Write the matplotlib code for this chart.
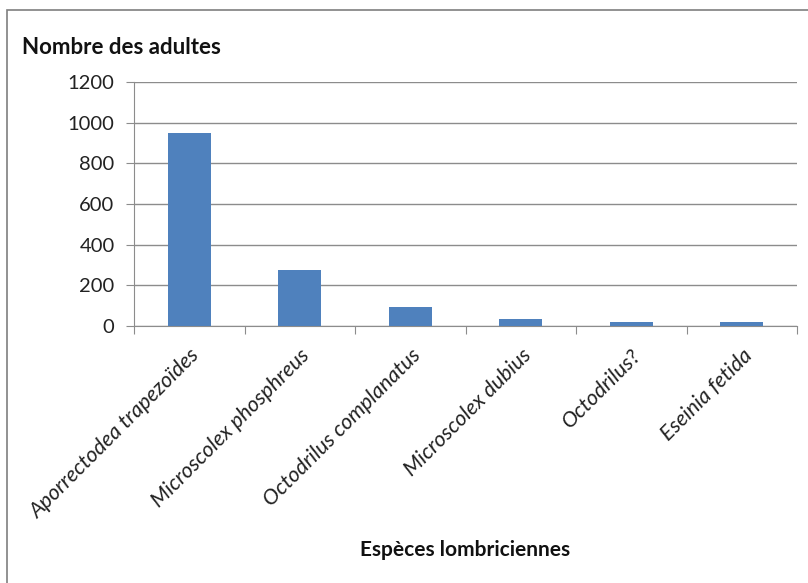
import matplotlib.pyplot as plt
from matplotlib.patches import Rectangle

# === Data ===
species = ["Aporrectodea trapezoïdes", "Microscolex phosphreus", "Octodrilus complanatus",
           "Microscolex dubius", "Octodrilus?", "Eseinia fetida"]
adults = [950, 277, 95, 32, 21, 21]
y_ticks = [0, 200, 400, 600, 800, 1000, 1200]

BAR_COLOR = "#4F81BD"
GRID_COLOR = "#8c8c8c"
plt.rcParams['font.family'] = ['Lato', 'DejaVu Sans']

fig = plt.figure(figsize=(8.08, 5.83), dpi=100)
ax = fig.add_axes([134 / 808, 1 - 326 / 583, 663 / 808, 244 / 583])

# outer chart frame
fig.patches.append(Rectangle((7 / 808, -0.1), 1.2, 1 - 10 / 583 + 0.1, transform=fig.transFigure,
                             fill=False, edgecolor="#7f7f7f", linewidth=1.2))

x = list(range(len(species)))
ax.bar(x, adults, width=0.39, color=BAR_COLOR, zorder=3)

ax.set_xlim(-0.5, len(species) - 0.5)
ax.set_ylim(0, 1200)
ax.set_yticks(y_ticks)
ax.set_yticklabels([str(v) for v in y_ticks], fontsize=14.5, color="#222222")
ax.yaxis.grid(True, color=GRID_COLOR, linewidth=1.0, zorder=0)
ax.tick_params(axis='y', length=6, color=GRID_COLOR, pad=8)

# ticks between categories, labels at centers
ax.set_xticks([i - 0.5 for i in range(len(species) + 1)])
ax.set_xticklabels([])
ax.tick_params(axis='x', which='major', length=6, color=GRID_COLOR)
ax.set_xticks(x, minor=True)
ax.set_xticklabels(species, minor=True, rotation=45, ha='right', rotation_mode='anchor',
                   fontsize=15.5, style='italic', color="#222222")
ax.tick_params(axis='x', which='minor', length=0, pad=14)

for side in ['top', 'right']:
    ax.spines[side].set_visible(False)
for side in ['left', 'bottom']:
    ax.spines[side].set_color(GRID_COLOR)

fig.text(22 / 808, 1 - 47 / 583, "Nombre des adultes", fontsize=16, fontweight='bold',
         va='center', ha='left', color="#111111")
fig.text(465 / 808, 1 - 550 / 583, "Espèces lombriciennes", fontsize=15, fontweight='bold',
         va='center', ha='center', color="#111111")

fig.savefig("out.png", dpi=100)
